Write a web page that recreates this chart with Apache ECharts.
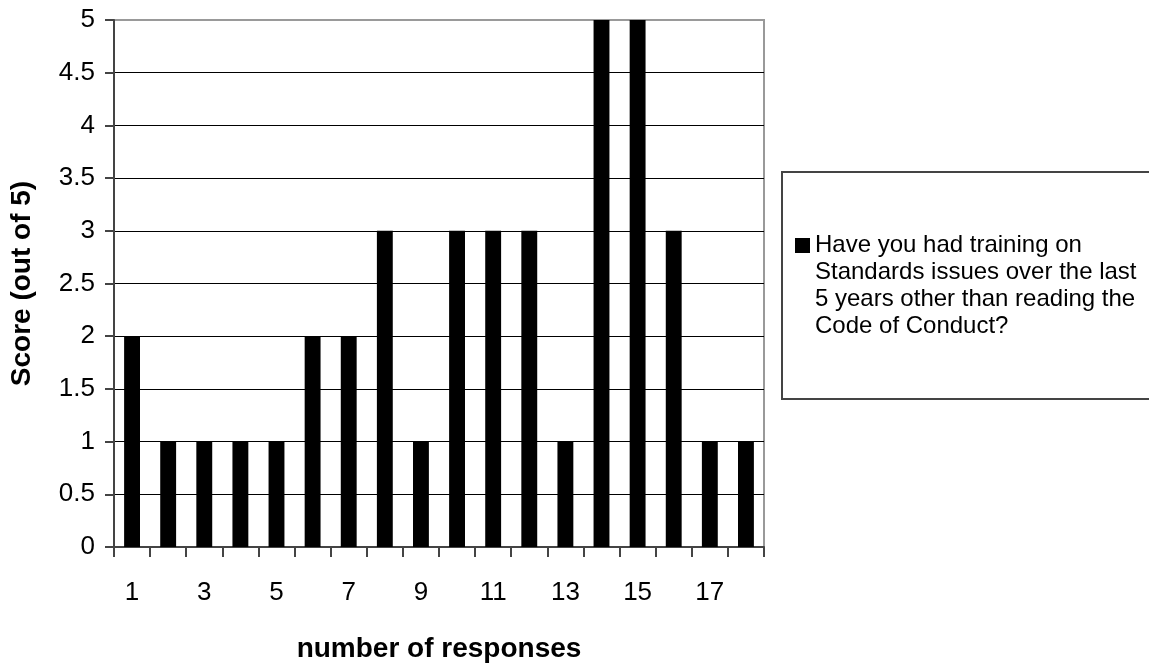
<!DOCTYPE html>
<html>
<head>
<meta charset="utf-8">
<script src="https://cdn.jsdelivr.net/npm/echarts@6/dist/echarts.min.js"></script>
<style>
html,body{margin:0;padding:0;background:#fff;}
#chart{width:1149px;height:668px;}
</style>
</head>
<body>
<div id="chart"></div>
<script>
const categories = ['1','2','3','4','5','6','7','8','9','10','11','12','13','14','15','16','17','18'];
const scores = [2,1,1,1,1,2,2,3,1,3,3,3,1,5,5,3,1,1];
const seriesName = 'Have you had training on\nStandards issues over the last\n5 years other than reading the\nCode of Conduct?';
const xAxisTitle = 'number of responses';
const yAxisTitle = 'Score (out of 5)';

const FONT = '"Liberation Sans", Arial, sans-serif';
const chart = echarts.init(document.getElementById('chart'), null, {renderer: 'canvas'});
const gridColors = [];
for (let i = 0; i < 10; i++) gridColors.push('#000');
gridColors.push('#9a9a9a');

chart.setOption({
  animation: false,
  backgroundColor: '#fff',
  textStyle: {fontFamily: FONT},
  grid: {left: 113, right: 385, top: 20, bottom: 115, show: true, borderColor: '#999', borderWidth: 2, backgroundColor: 'transparent'},
  xAxis: {
    type: 'category',
    data: categories,
    name: xAxisTitle,
    nameLocation: 'middle',
    nameGap: 88,
    nameTextStyle: {fontFamily: FONT, fontSize: 28, fontWeight: 'bold', color: '#000'},
    axisLine: {lineStyle: {color: '#444', width: 2}},
    axisTick: {show: true, interval: 0, length: 10, alignWithLabel: false, lineStyle: {color: '#444', width: 2}},
    axisLabel: {interval: 1, fontFamily: FONT, fontSize: 26, color: '#000', margin: 33},
    splitLine: {show: false}
  },
  yAxis: {
    type: 'value',
    min: 0, max: 5, interval: 0.5,
    name: yAxisTitle,
    nameLocation: 'middle',
    nameGap: 78,
    nameTextStyle: {fontFamily: FONT, fontSize: 28, fontWeight: 'bold', color: '#000'},
    axisLine: {show: true, lineStyle: {color: '#444', width: 2}},
    axisTick: {show: true, length: 9, lineStyle: {color: '#444', width: 2}},
    axisLabel: {fontFamily: FONT, fontSize: 26, color: '#000', margin: 19},
    splitLine: {show: true, lineStyle: {color: gridColors, width: 1}}
  },
  legend: {
    show: true,
    orient: 'vertical',
    left: 795,
    top: 151,
    padding: 0,
    icon: 'rect',
    itemWidth: 15,
    itemHeight: 15,
    selectedMode: false,
    formatter: function (name) { return '\n\n\n' + name; },
    textStyle: {fontFamily: FONT, fontSize: 24, lineHeight: 27, color: '#000'},
    data: [seriesName]
  },
  graphic: [{
    type: 'rect',
    shape: {x: 782, y: 172, width: 420, height: 227},
    style: {fill: 'none', stroke: '#444', lineWidth: 2},
    silent: true
  }],
  series: [{
    type: 'bar',
    name: seriesName,
    data: scores,
    barCategoryGap: '56%',
    itemStyle: {color: '#000'}
  }]
});
</script>
</body>
</html>
